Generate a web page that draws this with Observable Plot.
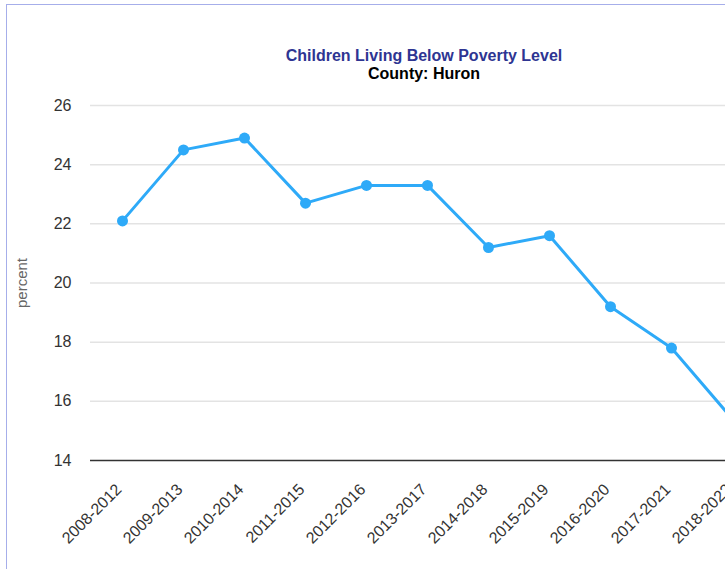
<!DOCTYPE html>
<html>
<head>
<meta charset="utf-8">
<script src="https://cdn.jsdelivr.net/npm/d3@7"></script>
<script src="https://cdn.jsdelivr.net/npm/@observablehq/plot@0.6"></script>
<style>
  html, body { margin: 0; padding: 0; background: #fff; overflow: hidden; width: 725px; height: 569px; }
  #wrap { position: relative; width: 725px; height: 569px; overflow: hidden; font-family: "Liberation Sans", Arial, sans-serif; }
  #frame { position: absolute; left: 6px; top: 4px; width: 900px; height: 700px; border-left: 1.5px solid #a6aeea; border-top: 1.5px solid #a6aeea; }
  .ttl { position: absolute; left: 224px; width: 400px; text-align: center; font-weight: bold; font-size: 16px; }
  #t1 { top: 47px; color: #2e3592; }
  #t2 { top: 65px; color: #000; }
  #chart { position: absolute; left: 0; top: 0; width: 800px; }
  #chart svg { max-width: none !important; }
</style>
</head>
<body>
<div id="wrap">
  <div id="frame"></div>
  <div id="chart"></div>
  <div class="ttl" id="t1">Children Living Below Poverty Level</div>
  <div class="ttl" id="t2">County: Huron</div>
</div>
<script>
const periods = ["2008-2012","2009-2013","2010-2014","2011-2015","2012-2016","2013-2017","2014-2018","2015-2019","2016-2020","2017-2021","2018-2022"];
const percent = [22.1, 24.5, 24.9, 22.7, 23.3, 23.3, 21.2, 21.6, 19.2, 17.8, 15.4];
const yTicks = [14, 16, 18, 20, 22, 24, 26];

const data = periods.map((p, i) => ({period: p, value: percent[i]}));
const color = "#2eaaf8";

const chart = Plot.plot({
  width: 800,
  height: 569,
  marginTop: 105,
  marginBottom: 109,
  marginLeft: 90,
  marginRight: 36,
  style: {fontFamily: "'Liberation Sans', Arial, sans-serif", background: "transparent", overflow: "visible", maxWidth: "none"},
  x: {type: "point", domain: periods, padding: 0.5, axis: null},
  y: {domain: [14, 26], axis: null},
  marks: [
    Plot.ruleY(yTicks.filter(t => t > 14), {stroke: "#e3e3e3", strokeWidth: 1.5}),
    Plot.ruleY([14], {stroke: "#333", strokeWidth: 1.5}),
    Plot.text(yTicks, {y: d => d, frameAnchor: "left", dx: -19, textAnchor: "end", text: d => String(d), fontSize: 16, fill: "#333"}),
    Plot.text(periods, {x: d => d, frameAnchor: "bottom", dx: 0, dy: 30, rotate: -45, textAnchor: "end", text: d => d, fontSize: 16, fill: "#333"}),
    Plot.text(["percent"], {frameAnchor: "left", dx: -68, rotate: -90, textAnchor: "middle", text: d => d, fontSize: 15, fill: "#666"}),
    Plot.line(data, {x: "period", y: "value", stroke: color, strokeWidth: 3}),
    Plot.dot(data, {x: "period", y: "value", fill: color, r: 5.5})
  ]
});
document.getElementById("chart").appendChild(chart);
</script>
</body>
</html>
